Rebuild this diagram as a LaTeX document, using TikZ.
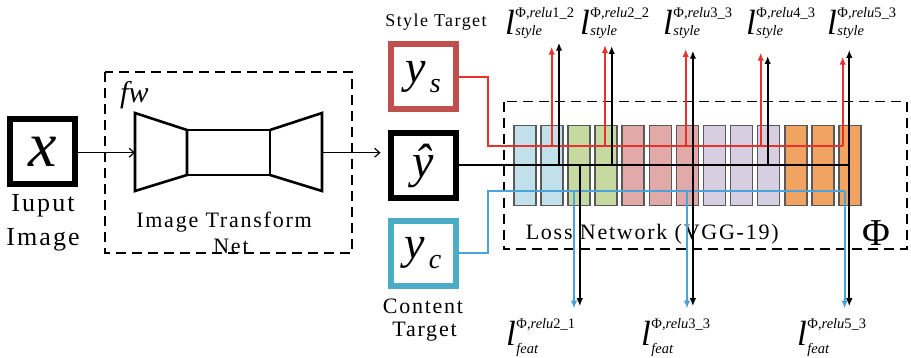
\documentclass[tikz,border=0pt]{standalone}
\usepackage{fontspec}
\setmainfont{Liberation Serif}
\newfontfamily\tnr{Liberation Serif}
\newfontfamily\labfont[LetterSpace=8]{Liberation Serif}
\usetikzlibrary{arrows.meta}

\definecolor{boxred}{HTML}{C0504D}
\definecolor{boxblue}{HTML}{4BACC6}
\definecolor{linered}{HTML}{E8312A}
\definecolor{lineblue}{HTML}{4AA3DA}
\definecolor{vblue}{HTML}{C2E0E9}
\definecolor{vgreen}{HTML}{C6D9A0}
\definecolor{vpink}{HTML}{E1AAA8}
\definecolor{vlav}{HTML}{D7CEE2}
\definecolor{vorange}{HTML}{F1A462}

% loss term l^{Phi,relu..}_{sub}; #3 = drop of the subscript
\newcommand{\lossterm}[3]{%
  \tnr\fontsize{35}{35}\selectfont\itshape l\kern0.5pt
  \rlap{\raisebox{17pt}{\fontsize{14.5}{14.5}\selectfont\upshape Φ\itshape ,relu\upshape #1}}%
  \raisebox{-#3}{\fontsize{14.5}{14.5}\selectfont\itshape #2}}

\begin{document}
\begin{tikzpicture}[x=1pt,y=-1pt,
  imgbox/.style={draw, line width=6pt, minimum size=65pt, inner sep=0pt},
  dashbox/.style={draw, line width=1.8pt, dash pattern=on 10pt off 6pt},
  netline/.style={line width=2.6pt, line join=miter},
  flow/.style={line width=1.2pt, -{Straight Barb[length=5pt,width=9pt]}},
  blackline/.style={line width=2pt, draw=black},
  redline/.style={line width=2pt, draw=linered},
  blueline/.style={line width=2pt, draw=lineblue},
  uptip/.style={-{Latex[length=8pt,width=6.5pt]}},
  vggblock/.style={draw=black!65, line width=1.5pt},
  caption/.style={font=\labfont, inner sep=0pt, align=center},
  lossname/.style={anchor=base west, inner sep=0pt}]
\useasboundingbox (0,0) rectangle (911,358);

% ---- image transform network ----
\draw[dashbox] (105,72) rectangle (352,253);
\node[anchor=base west, inner sep=0pt] (fw) at (120,103)
  {\tnr\itshape\fontsize{30}{30}\selectfont fw};
\draw[netline] (135,113) -- (187,130) -- (187,175) -- (135,191) -- cycle;
\draw[netline] (187,130) rectangle (270,175);
\draw[netline] (270,130) -- (322,113) -- (322,191) -- (270,175);
\coordinate (encL) at (135,152.7);
\coordinate (decR) at (322,152.7);
\node[caption] (itn1) at (224,222) {\fontsize{22}{22}\selectfont Image Transform};
\node[caption] (itn2) at (231,246) {\fontsize{22}{22}\selectfont Net};

% ---- input image ----
\node[imgbox] (xin) at (42.5,152) {\tnr\itshape\fontsize{64}{64}\selectfont x};
\node[caption] (in1) at (43,206) {\fontsize{26}{26}\selectfont Iuput};
\node[caption] (in2) at (43,240) {\fontsize{26}{26}\selectfont Image};
\draw[flow] (xin.east |- encL) -- (encL);

% ---- loss network ----
\draw[dashbox] (503.6,101.6) rectangle (907,249);
\foreach \i/\c in {0/vblue,1/vblue,2/vgreen,3/vgreen,4/vpink,5/vpink,6/vpink,
                   7/vlav,8/vlav,9/vlav,10/vorange,11/vorange,12/vorange}
  \draw[vggblock, fill=\c] ({513.8+27.1*\i},125.4) rectangle ++(22,80.3);
\node[caption, anchor=west] (lossnet) at (525.6,233.8)
  {\fontsize{22}{22}\selectfont Loss Network (VGG-19)};
\node[inner sep=0pt] (phi) at (876,233) {\tnr\fontsize{38}{38}\selectfont Φ};

% ---- target / output images ----
\node[imgbox, draw=boxred] (ys) at (423,77)
  {\tnr\itshape\fontsize{46}{46}\selectfont y\kern4pt\raisebox{-10pt}{\fontsize{28}{28}\selectfont s}};
\node[imgbox] (yhat) at (423,165.7)
  {\tnr\itshape\fontsize{48}{48}\selectfont \^{y}};
\node[imgbox, draw=boxblue] (yc) at (423,253.5)
  {\tnr\itshape\fontsize{46}{46}\selectfont y\kern4pt\raisebox{-10pt}{\fontsize{28}{28}\selectfont c}};
\node[caption] (stylecap) at (436,22) {\fontsize{18}{18}\selectfont Style Target};
\node[caption] (contcap1) at (423,306.5) {\fontsize{22}{22}\selectfont Content};
\node[caption] (contcap2) at (424.5,331.5) {\fontsize{22}{22}\selectfont Target};

\draw[flow, shorten >=7pt] (decR) -- (decR -| yhat.west);

% ---- loss terms ----
\node[lossname] (ls1) at (505,35) {\lossterm{1\_2}{style}{1pt}};
\node[lossname] (ls2) at (580,35) {\lossterm{2\_2}{style}{1pt}};
\node[lossname] (ls3) at (663,35) {\lossterm{3\_3}{style}{1pt}};
\node[lossname] (ls4) at (746,35) {\lossterm{4\_3}{style}{1pt}};
\node[lossname] (ls5) at (827,35) {\lossterm{5\_3}{style}{1pt}};
\node[lossname] (lf1) at (506,345) {\lossterm{2\_1}{feat}{8pt}};
\node[lossname] (lf2) at (641,345) {\lossterm{3\_3}{feat}{8pt}};
\node[lossname] (lf3) at (797,345) {\lossterm{5\_3}{feat}{8pt}};

% ---- style features (red) ----
\coordinate (rbend1) at (487.7,77);
\coordinate (rbend2) at (487.7,145.7);
\foreach \n/\x/\t in {1/551.7/46.7, 2/605/45, 3/685.7/49, 4/760.7/52.7, 5/842.7/56.7}{
  \coordinate (rb\n) at (\x,145.7);
  \coordinate (rt\n) at (\x,\t);
}
\draw[redline] (ys.east) -- (rbend1) -- (rbend2) -- (rb5);
\foreach \n in {1,...,5}
  \draw[redline, uptip] (rb\n) -- (rt\n);

% ---- content features (blue) ----
\coordinate (cbend1) at (487.7,253.5);
\coordinate (cbend2) at (487.7,190.8);
\foreach \n/\x in {1/574, 2/687, 3/844.6}{
  \coordinate (cb\n) at (\x,190.8);
  \coordinate (ct\n) at (\x,308.6);
}
\draw[blueline] (yc.east) -- (cbend1) -- (cbend2) -- (cb3);
\foreach \n in {1,2,3}
  \draw[blueline, uptip] (cb\n) -- (ct\n);

% ---- output features (black) ----
\foreach \n/\x/\t in {1/559/42.7, 2/611.7/46, 3/692.9/50.7, 4/767.7/56, 5/849.3/50}{
  \coordinate (ob\n) at (\x,165.4);
  \coordinate (ot\n) at (\x,\t);
}
\foreach \n/\x in {1/579.8, 2/692.9, 3/849.3}{
  \coordinate (db\n) at (\x,165.4);
  \coordinate (dt\n) at (\x,306.2);
}
\draw[blackline] (yhat.east |- ob1) -- (ob5);
\foreach \n in {1,...,5}
  \draw[blackline, uptip] (ob\n) -- (ot\n);
\foreach \n in {1,2,3}
  \draw[blackline, uptip] (db\n) -- (dt\n);
\end{tikzpicture}
\end{document}
